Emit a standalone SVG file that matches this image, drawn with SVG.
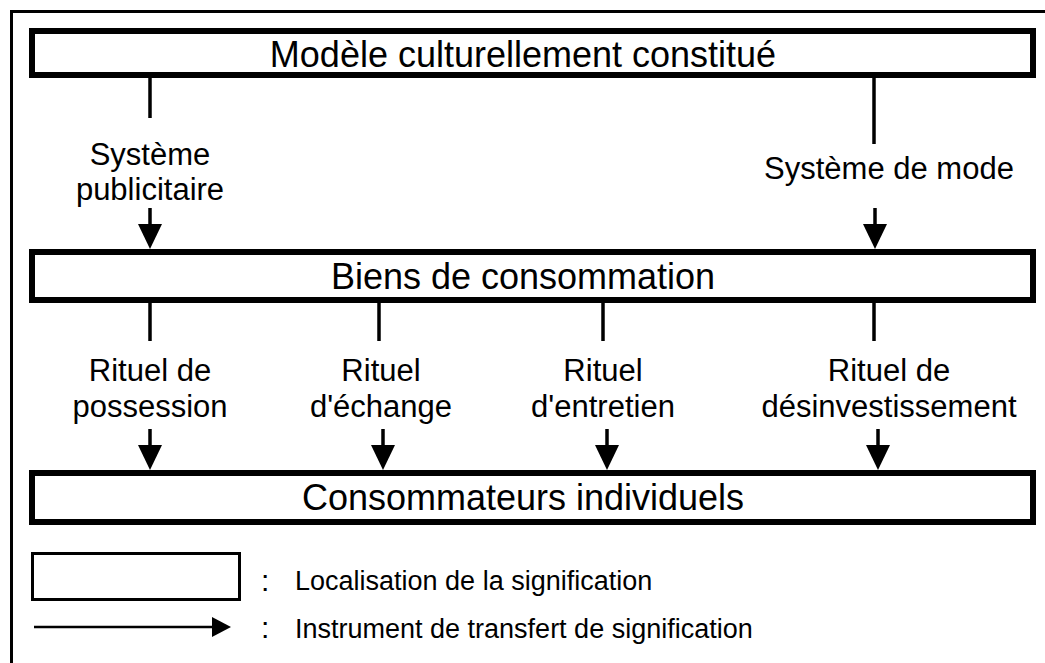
<svg xmlns="http://www.w3.org/2000/svg" width="1045" height="663" viewBox="0 0 1045 663">
  <defs>
    <style>
      .frame { fill: none; stroke: #000; stroke-width: 3; }
      .box { fill: #fff; stroke: #000; stroke-width: 6; }
      .title { font-family: "Liberation Sans", Arial, sans-serif; font-size: 36px; fill: #000; text-anchor: middle; }
      .label { font-family: "Liberation Sans", Arial, sans-serif; font-size: 31px; fill: #000; text-anchor: middle; }
      .legend { font-family: "Liberation Sans", Arial, sans-serif; font-size: 27px; fill: #000; }
      .colon { font-family: "Liberation Sans", Arial, sans-serif; font-size: 30px; fill: #000; }
      .stem { stroke: #000; stroke-width: 3.5; fill: none; }
      .head { fill: #000; }
    </style>
  </defs>

  <rect width="1045" height="663" fill="#fff"/>
  <!-- outer frame, open to the right and bottom -->
  <rect class="frame" x="11.5" y="11.5" width="1100" height="700"/>

  <g id="node-modele">
    <rect class="box" x="32" y="31" width="1001" height="44"/>
    <text class="title" x="523" y="67">Modèle culturellement constitué</text>
  </g>
  <g id="node-biens">
    <rect class="box" x="32" y="252" width="1001" height="48"/>
    <text class="title" x="523" y="289">Biens de consommation</text>
  </g>
  <g id="node-consommateurs">
    <rect class="box" x="32" y="473" width="1001" height="49"/>
    <text class="title" x="523" y="510">Consommateurs individuels</text>
  </g>

  <g id="connectors">
    <!-- Modèle -> Biens -->
    <line class="stem" x1="150" y1="78" x2="150" y2="118"/>
    <text class="label" x="150" y="165">Système</text>
    <text class="label" x="150" y="200">publicitaire</text>
    <line class="stem" x1="150" y1="208" x2="150" y2="226"/>
    <polygon class="head" points="138,224 162,224 150,249"/>

    <line class="stem" x1="874" y1="78" x2="874" y2="144"/>
    <text class="label" x="889" y="179">Système de mode</text>
    <line class="stem" x1="875" y1="208" x2="875" y2="226"/>
    <polygon class="head" points="863,224 887,224 875,249"/>

    <!-- Biens -> Consommateurs -->
    <line class="stem" x1="150" y1="303" x2="150" y2="341"/>
    <text class="label" x="150" y="381">Rituel de</text>
    <text class="label" x="150" y="417">possession</text>
    <line class="stem" x1="150" y1="429" x2="150" y2="447"/>
    <polygon class="head" points="138,445 162,445 150,470"/>

    <line class="stem" x1="379" y1="303" x2="379" y2="341"/>
    <text class="label" x="381" y="381">Rituel</text>
    <text class="label" x="381" y="417">d'échange</text>
    <line class="stem" x1="383" y1="429" x2="383" y2="447"/>
    <polygon class="head" points="371,445 395,445 383,470"/>

    <line class="stem" x1="603" y1="303" x2="603" y2="341"/>
    <text class="label" x="603" y="381">Rituel</text>
    <text class="label" x="603" y="417">d'entretien</text>
    <line class="stem" x1="607" y1="429" x2="607" y2="447"/>
    <polygon class="head" points="595,445 619,445 607,470"/>

    <line class="stem" x1="874" y1="303" x2="874" y2="341"/>
    <text class="label" x="889" y="381">Rituel de</text>
    <text class="label" x="889" y="417">désinvestissement</text>
    <line class="stem" x1="878" y1="429" x2="878" y2="447"/>
    <polygon class="head" points="866,445 890,445 878,470"/>
  </g>

  <g id="legend">
    <rect x="32.5" y="553.5" width="207" height="46" fill="none" stroke="#000" stroke-width="3"/>
    <text class="colon" x="261" y="591">:</text>
    <text class="legend" x="295" y="590">Localisation de la signification</text>
    <line x1="34" y1="627" x2="215" y2="627" stroke="#000" stroke-width="2.5"/>
    <polygon class="head" points="212,617 231,627 212,637"/>
    <text class="colon" x="261" y="638">:</text>
    <text class="legend" x="295" y="638">Instrument de transfert de signification</text>
  </g>
</svg>
